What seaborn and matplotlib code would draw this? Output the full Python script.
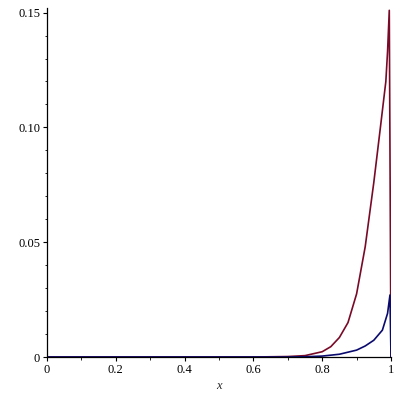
import numpy as np
import pandas as pd
import matplotlib
matplotlib.use('Agg')
import matplotlib.pyplot as plt
import seaborn as sns
from matplotlib.ticker import MultipleLocator

# values
red_x = [0.0, 0.6, 0.7, 0.75, 0.8, 0.825, 0.85, 0.875, 0.9, 0.925, 0.95, 0.97, 0.985, 0.99, 0.995, 1.0]
red_y = [0.0, 0.0, 0.0002, 0.0006, 0.0023, 0.0045, 0.0085, 0.015, 0.0275, 0.048, 0.076, 0.101, 0.120, 0.133, 0.151, 0.0]

blue_x = [0.0, 0.7, 0.75, 0.8, 0.85, 0.9, 0.925, 0.95, 0.975, 0.99, 0.997, 1.0]
blue_y = [0.0, 0.0, 0.0001, 0.0004, 0.0012, 0.003, 0.0048, 0.0073, 0.0117, 0.019, 0.027, 0.0]

x_ticks = [0, 0.2, 0.4, 0.6, 0.8, 1.0]
x_labels = ['0', '0.2', '0.4', '0.6', '0.8', '1']
y_ticks = [0, 0.05, 0.10, 0.15]
y_labels = ['0', '0.05', '0.10', '0.15']

sns.set_style('ticks')
plt.rcParams['font.family'] = ['Liberation Serif', 'DejaVu Serif']

fig = plt.figure(figsize=(4, 4), dpi=100)
ax = fig.add_axes([0.1175, 0.1075, 0.86, 0.8725])

red_df = pd.DataFrame({'x': red_x, 'y': red_y})
blue_df = pd.DataFrame({'x': blue_x, 'y': blue_y})

sns.lineplot(data=red_df, x='x', y='y', ax=ax, color='#780a28', lw=1.2, sort=False)
sns.lineplot(data=blue_df, x='x', y='y', ax=ax, color='#0a0a6e', lw=1.2, sort=False)

ax.set_xlim(0, 1.0)
ax.set_ylim(0, 0.152)
ax.set_xticks(x_ticks)
ax.set_xticklabels(x_labels)
ax.set_yticks(y_ticks)
ax.set_yticklabels(y_labels)
ax.xaxis.set_minor_locator(MultipleLocator(0.1))
ax.yaxis.set_minor_locator(MultipleLocator(0.01))
ax.tick_params(which='major', length=3, width=0.8, labelsize=9, colors='black', pad=2)
ax.tick_params(which='minor', length=1.8, width=0.6, colors='black')
ax.set_xlabel('x', fontstyle='italic', fontsize=9, labelpad=3)
ax.set_ylabel('')

for s in ['top', 'right']:
    ax.spines[s].set_visible(False)
for s in ['left', 'bottom']:
    ax.spines[s].set_color('black')
    ax.spines[s].set_linewidth(0.9)

fig.savefig('out.png', dpi=100)
